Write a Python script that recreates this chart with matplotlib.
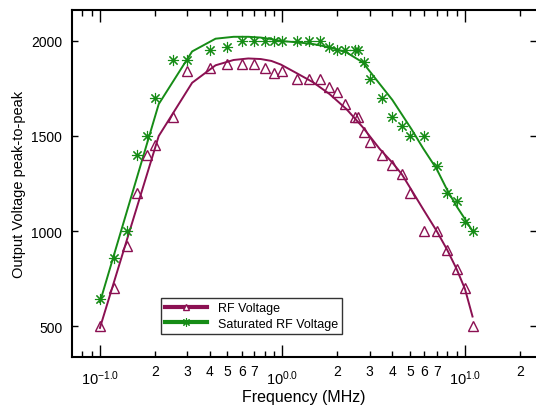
import numpy as np
import matplotlib
matplotlib.use('Agg')
import matplotlib.pyplot as plt
from matplotlib.ticker import FixedLocator, FixedFormatter

plt.rcParams['font.family'] = ['Liberation Sans', 'DejaVu Sans']
plt.rcParams['mathtext.fontset'] = 'custom'
plt.rcParams['mathtext.rm'] = 'Liberation Sans'
plt.rcParams['mathtext.it'] = 'Liberation Sans:italic'
plt.rcParams['axes.unicode_minus'] = False

# measured points (MHz, Vpp)
rf_freq = [0.1, 0.12, 0.14, 0.16, 0.18, 0.2, 0.25, 0.3, 0.4, 0.5, 0.6, 0.7, 0.8, 0.9, 1.0,
           1.2, 1.4, 1.6, 1.8, 2.0, 2.2, 2.5, 2.6, 2.8, 3.0, 3.5, 4.0, 4.5, 5.0, 6.0,
           7.0, 8.0, 9.0, 10.0, 11.0]
rf_volt = [500, 700, 920, 1200, 1400, 1450, 1600, 1840, 1860, 1880, 1880, 1880, 1860, 1830, 1840,
           1800, 1800, 1800, 1760, 1730, 1670, 1600, 1600, 1520, 1470, 1400, 1350, 1300, 1200, 1000,
           1000, 900, 800, 700, 500]

sat_freq = [0.1, 0.12, 0.14, 0.16, 0.18, 0.2, 0.25, 0.3, 0.4, 0.5, 0.6, 0.7, 0.8, 0.9, 1.0,
            1.2, 1.4, 1.6, 1.8, 2.0, 2.2, 2.5, 2.6, 2.8, 3.0, 3.5, 4.0, 4.5, 5.0, 6.0,
            7.0, 8.0, 9.0, 10.0, 11.0]
sat_volt = [640, 860, 1000, 1400, 1500, 1700, 1900, 1900, 1950, 1970, 2000, 2000, 2000, 2000, 2000,
            2000, 2000, 2000, 1970, 1950, 1950, 1950, 1950, 1890, 1800, 1700, 1600, 1550, 1500, 1500,
            1340, 1200, 1160, 1050, 1000]

# fitted curves
fit_freq = [0.1, 0.21, 0.32, 0.43, 0.54, 0.65, 0.76, 0.87, 0.98, 1.2, 1.47, 1.81, 2.24, 2.75,
            3.41, 4.0, 4.5, 5.1, 5.9, 7.0, 8.0, 9.0, 10.0, 11.0]
fit_rf = [490, 1500, 1780, 1872, 1900, 1908, 1905, 1895, 1876, 1830, 1783, 1721, 1642, 1547,
          1432, 1360, 1300, 1215, 1115, 1000, 900, 800, 695, 550]
fit_sat = [625, 1668, 1945, 2012, 2022, 2022, 2018, 2010, 2000, 1993, 1984, 1967, 1940, 1888,
           1774, 1690, 1615, 1535, 1435, 1326, 1215, 1130, 1063, 1000]

maroon = '#8b1052'
green = '#168c16'

fig = plt.figure(figsize=(5.36, 4.06), dpi=100)
ax = fig.add_axes([0.1343, 0.1182, 0.8657, 0.8547])

ax.plot(fit_freq, fit_rf, color=maroon, lw=1.4, zorder=2)
ax.plot(fit_freq, fit_sat, color=green, lw=1.4, zorder=2)
ax.plot(rf_freq, rf_volt, ls='none', marker='^', ms=6.5, mfc='none', mec=maroon, mew=1.0, zorder=3)
ax.plot(sat_freq, sat_volt, ls='none', marker=(8, 2, 0), ms=8, mec=green, mew=0.8, zorder=3)

# legend proxies
h1, = ax.plot([], [], color=maroon, lw=3, marker='^', ms=5, mfc='white', mec=maroon, mew=1)
h2, = ax.plot([], [], color=green, lw=3, marker=(8, 2, 0), ms=6, mec=green, mew=0.8)
leg = ax.legend([h1, h2], ['RF Voltage', 'Saturated RF Voltage'], loc='lower left',
                bbox_to_anchor=(0.192, 0.066), borderaxespad=0, fontsize=9,
                handlelength=3.3, handletextpad=0.9, labelspacing=0.3,
                fancybox=False, frameon=True, borderpad=0.35)
leg.get_frame().set_edgecolor('black')
leg.get_frame().set_linewidth(1.0)

ax.set_xscale('log')
ax.set_xlim(0.0703, 24.5)
ax.set_ylim(337, 2163)

major = [0.1, 1.0, 10.0]
ax.xaxis.set_major_locator(FixedLocator(major))
ax.xaxis.set_major_formatter(FixedFormatter([r'$10^{-1.0}$', r'$10^{0.0}$', r'$10^{1.0}$']))
minor = []
minor_lbl = []
for dec in [0.01, 0.1, 1.0, 10.0]:
    for k in range(2, 10):
        v = dec * k
        if 0.0703 < v < 24.5:
            minor.append(v)
            minor_lbl.append(str(k) if k <= 7 else '')
ax.xaxis.set_minor_locator(FixedLocator(minor))
ax.xaxis.set_minor_formatter(FixedFormatter(minor_lbl))

ax.set_yticks([500, 1000, 1500, 2000])

ax.tick_params(axis='x', which='major', direction='in', length=8.5, width=1, top=True,
               labelsize=10.5, pad=8)
ax.tick_params(axis='x', which='minor', direction='in', length=4.3, width=1, top=True,
               labelsize=10, pad=5)
ax.tick_params(axis='y', which='major', direction='in', length=4, width=1, right=True,
               labelsize=10, pad=7)
ax.tick_params(axis='y', which='minor', left=False, right=False)

for s in ['left', 'bottom', 'top']:
    ax.spines[s].set_linewidth(1.5)
ax.spines['right'].set_visible(False)

ax.set_xlabel('Frequency (MHz)', fontsize=11.5, labelpad=2)
ax.set_ylabel('Output Voltage peak-to-peak', fontsize=10.5, labelpad=4)

fig.savefig('out.png', dpi=100)
